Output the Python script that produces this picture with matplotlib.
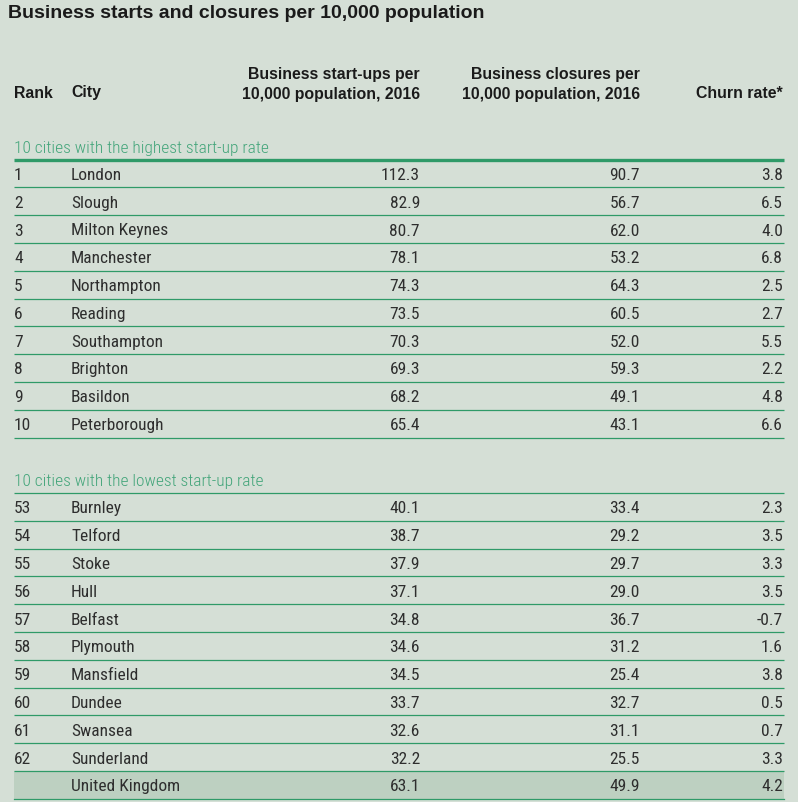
import matplotlib.pyplot as plt
from matplotlib import font_manager

# table data
top_ranks = [1, 2, 3, 4, 5, 6, 7, 8, 9, 10]
top_cities = ["London", "Slough", "Milton Keynes", "Manchester", "Northampton",
              "Reading", "Southampton", "Brighton", "Basildon", "Peterborough"]
top_startups = [112.3, 82.9, 80.7, 78.1, 74.3, 73.5, 70.3, 69.3, 68.2, 65.4]
top_closures = [90.7, 56.7, 62.0, 53.2, 64.3, 60.5, 52.0, 59.3, 49.1, 43.1]
top_churn = [3.8, 6.5, 4.0, 6.8, 2.5, 2.7, 5.5, 2.2, 4.8, 6.6]

low_ranks = [53, 54, 55, 56, 57, 58, 59, 60, 61, 62]
low_cities = ["Burnley", "Telford", "Stoke", "Hull", "Belfast",
              "Plymouth", "Mansfield", "Dundee", "Swansea", "Sunderland"]
low_startups = [40.1, 38.7, 37.9, 37.1, 34.8, 34.6, 34.5, 33.7, 32.6, 32.2]
low_closures = [33.4, 29.2, 29.7, 29.0, 36.7, 31.2, 25.4, 32.7, 31.1, 25.5]
low_churn = [2.3, 3.5, 3.3, 3.5, -0.7, 1.6, 3.8, 0.5, 0.7, 3.3]

uk = ["United Kingdom", 63.1, 49.9, 4.2]

installed = {f.name for f in font_manager.fontManager.ttflist}
body = dict(family="DejaVu Sans", stretch="condensed")
for name in ["Roboto Condensed", "Archivo Narrow", "PT Sans Narrow"]:
    if name in installed:
        body = dict(family=name)
        break
head_font = "Liberation Sans"

bg = "#d5dfd6"
green = "#2f9a68"
label_green = "#43a57a"
txt = "#2e2e2e"

fig = plt.figure(figsize=(7.98, 8.03), dpi=100, facecolor=bg)
ax = fig.add_axes([0, 0, 1, 1])
ax.set_xlim(0, 798)
ax.set_ylim(803, 0)
ax.axis("off")

x_rank, x_city, x_start, x_close, x_churn = 14, 71, 420, 640, 783
x0, x1 = 14, 784
row_h = 27.8

ax.text(8, 13, "Business starts and closures per 10,000 population", fontsize=14.0,
        fontweight="bold", family=head_font, color="#1a1a1a", va="center", ha="left")

hk = dict(fontsize=11.4, fontweight="bold", family=head_font, color="#1a1a1a", va="center")
ax.text(x_rank, 93, "Rank", ha="left", **hk)
ax.text(x_city, 93, "City", ha="left", **hk)
ax.text(x_start, 74, "Business start-ups per", ha="right", **hk)
ax.text(x_start, 94, "10,000 population, 2016", ha="right", **hk)
ax.text(x_close, 74, "Business closures per", ha="right", **hk)
ax.text(x_close, 94, "10,000 population, 2016", ha="right", **hk)
ax.text(x_churn, 93, "Churn rate*", ha="right", **hk)

tk = dict(fontsize=12.5, color=txt, va="center", **body)


def draw_group(label, y_label, y_line, lw, ranks, cities, starts, closes, churn):
    ax.text(x0, y_label, label, fontsize=12.5, color=label_green, va="center",
            ha="left", fontweight="light", **body)
    ax.plot([x0, x1], [y_line, y_line], color=green, lw=lw, solid_capstyle="butt")
    for i in range(len(ranks)):
        y = y_line + row_h / 2 + i * row_h
        ax.text(x_rank, y + 1, str(ranks[i]), ha="left", **tk)
        ax.text(x_city, y + 1, cities[i], ha="left", **tk)
        ax.text(x_start, y + 1, f"{starts[i]:.1f}", ha="right", **tk)
        ax.text(x_close, y + 1, f"{closes[i]:.1f}", ha="right", **tk)
        ax.text(x_churn, y + 1, f"{churn[i]:.1f}", ha="right", **tk)
        yl = y + row_h / 2
        ax.plot([x0, x1], [yl, yl], color=green, lw=0.9, solid_capstyle="butt")
    return y_line + len(ranks) * row_h


draw_group("10 cities with the highest start-up rate", 148.5, 160.5, 2.4,
           top_ranks, top_cities, top_startups, top_closures, top_churn)
end = draw_group("10 cities with the lowest start-up rate", 481.5, 494, 0.9,
                 low_ranks, low_cities, low_startups, low_closures, low_churn)

# UK summary row
ax.fill_between([x0, x1], end, end + row_h, color="#bdd0c1", lw=0)
yu = end + row_h / 2 + 1
ax.text(x_city, yu, uk[0], ha="left", **tk)
ax.text(x_start, yu, f"{uk[1]:.1f}", ha="right", **tk)
ax.text(x_close, yu, f"{uk[2]:.1f}", ha="right", **tk)
ax.text(x_churn, yu, f"{uk[3]:.1f}", ha="right", **tk)
ax.plot([x0, x1], [end + row_h, end + row_h], color=green, lw=0.9)

fig.savefig("out.png", dpi=100, facecolor=bg)
